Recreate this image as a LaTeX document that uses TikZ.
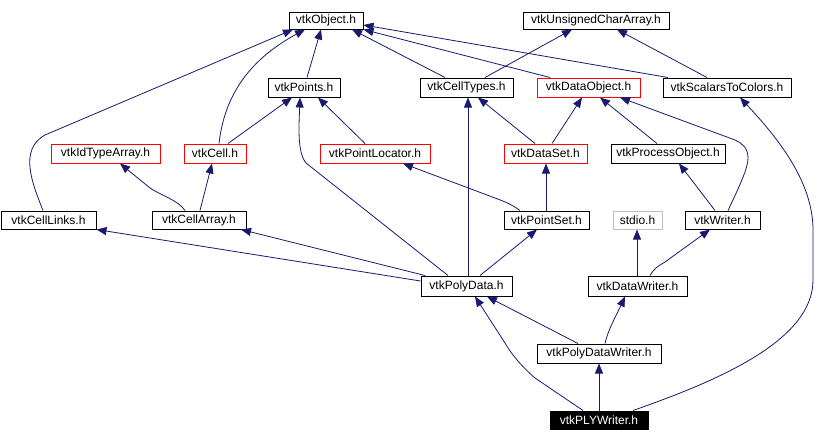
\documentclass[tikz,border=0pt]{standalone}
\usepackage{fontspec}
\setmainfont{Liberation Sans}
\usetikzlibrary{arrows.meta}
\definecolor{edgeblue}{HTML}{191970}
\definecolor{boxgray}{HTML}{BFBFBF}
\begin{document}
\begin{tikzpicture}[x=1pt,y=-1pt,
  box/.style={draw=black, line width=1pt, fill=white, inner sep=0pt,
    minimum height=18pt, font=\fontsize{12}{14}\selectfont},
  redbox/.style={box, draw=red},
  graybox/.style={box, draw=boxgray},
  blackbox/.style={box, fill=black, text=white},
  edge/.style={draw=edgeblue, line width=0.8pt,
    -{Triangle[length=10pt,width=8pt]}, fill=none}]
\useasboundingbox (0,0) rectangle (829,442);
% nodes
\node[box, minimum width=74pt, minimum height=17pt] (obj) at (326,20.5) {vtkObject.h};
\node[box, minimum width=146pt, minimum height=17pt] (uca) at (596,20.5) {vtkUnsignedCharArray.h};
\node[box, minimum width=72pt, minimum height=19pt] (pts) at (304,87.5) {vtkPoints.h};
\node[box, minimum width=93pt, minimum height=19pt] (ct) at (466.5,87.5) {vtkCellTypes.h};
\node[redbox, minimum width=103pt, minimum height=19pt] (dobj) at (588.5,87.5) {vtkDataObject.h};
\node[box, minimum width=128pt, minimum height=19pt] (s2c) at (727,87.5) {vtkScalarsToColors.h};
\node[redbox, minimum width=109pt, minimum height=19pt] (idt) at (105.5,153.5) {vtkIdTypeArray.h};
\node[redbox, minimum width=62pt, minimum height=19pt] (cell) at (215,153.5) {vtkCell.h};
\node[redbox, minimum width=110pt, minimum height=19pt] (ploc) at (375,153.5) {vtkPointLocator.h};
\node[redbox, minimum width=83pt, minimum height=19pt] (ds) at (545.5,153.5) {vtkDataSet.h};
\node[box, minimum width=114pt, minimum height=19pt] (po) at (668,153.5) {vtkProcessObject.h};
\node[box, minimum width=95pt] (cl) at (48.5,220) {vtkCellLinks.h};
\node[box, minimum width=94pt] (ca) at (199,220) {vtkCellArray.h};
\node[box, minimum width=85pt] (ps) at (546.5,220) {vtkPointSet.h};
\node[graybox, minimum width=49pt] (stdio) at (637.5,220) {stdio.h};
\node[box, minimum width=75pt] (wr) at (722.5,220) {vtkWriter.h};
\node[box, minimum width=91pt, minimum height=20pt] (pd) at (466.5,286) {vtkPolyData.h};
\node[box, minimum width=99pt, minimum height=20pt] (dw) at (637.5,286) {vtkDataWriter.h};
\node[box, minimum width=124pt, minimum height=19pt] (pdw) at (599,353.5) {vtkPolyDataWriter.h};
\node[blackbox, minimum width=98pt] (ply) at (599,420) {vtkPLYWriter.h};
% edges
\draw[edge] (pts.north -| 307,0) -- (obj.south -| 321,0);
\draw[edge] (cell.north -| 219,0) .. controls (224,100) and (245,62) .. (obj.south -| 305,0);
\draw[edge] (cl.north -| 43,0) .. controls (33,185) and (18,150) .. (45,135) -- (obj.south -| 293,0);
\draw[edge] (ct.north -| 445,0) -- (obj.south -| 352,0);
\draw[edge] (dobj.north -| 550,0) -- (obj.south east);
\draw[edge] (s2c.north -| 668,0) -- (obj.east |- 0,25);
\draw[edge] (ct.north -| 485,0) -- (uca.south -| 572,0);
\draw[edge] (s2c.north -| 707,0) -- (uca.south -| 617,0);
\draw[edge] (cell.north -| 228,0) -- (pts.south -| 292,0);
\draw[edge] (pd.north -| 448,0) -- (306,163) .. controls (297,152) and (299,125) .. (pts.south -| 300,0);
\draw[edge] (ploc.north -| 365,0) -- (pts.south -| 318,0);
\draw[edge] (ca.north -| 185,0) .. controls (178,200) and (160,195) .. (150,188) -- (idt.south -| 120,0);
\draw[edge] (ca.north -| 200,0) -- (cell.south -| 212,0);
\draw[edge] (ps.north -| 520,0) .. controls (510,203) and (500,200) .. (495,198) -- (ploc.south -| 403,0);
\draw[edge] (pd.north -| 468,0) -- (ct.south -| 468,0);
\draw[edge] (ds.north -| 535,0) -- (ct.south -| 478,0);
\draw[edge] (ds.north -| 552,0) -- (dobj.south -| 582,0);
\draw[edge] (po.north -| 657,0) -- (dobj.south -| 600,0);
\draw[edge] (wr.north -| 728,0) .. controls (740,185) and (748,168) .. (748,158) .. controls (748,148) and (742,143) .. (735,140) -- (dobj.south -| 620,0);
\draw[edge] (ply.north -| 633,0) .. controls (720,380) and (813,340) .. (813,280) -- (813,230) .. controls (813,180) and (775,135) .. (s2c.south -| 740,0);
\draw[edge] (ps.north -| 546,0) -- (ds.south -| 546,0);
\draw[edge] (wr.north -| 715,0) -- (po.south -| 679,0);
\draw[edge] (pd.west |- 0,281) -- (cl.south east);
\draw[edge] (pd.north -| 425,0) -- (ca.south -| 241,0);
\draw[edge] (pd.north -| 480,0) -- (ps.south -| 537,0);
\draw[edge] (dw.north -| 637,0) -- (stdio.south -| 637,0);
\draw[edge] (dw.north -| 650,0) .. controls (655,268) .. (665,262) -- (wr.south -| 710,0);
\draw[edge] (pdw.north -| 578,0) -- (pd.south -| 487,0);
\draw[edge] (ply.north -| 583,0) -- (535,378) .. controls (520,365) and (510,352) .. (505,343) -- (pd.south -| 475,0);
\draw[edge] (pdw.north -| 605,0) .. controls (608,330) and (615,318) .. (dw.south -| 625,0);
\draw[edge] (ply.north -| 599,0) -- (pdw.south -| 599,0);
\end{tikzpicture}
\end{document}
